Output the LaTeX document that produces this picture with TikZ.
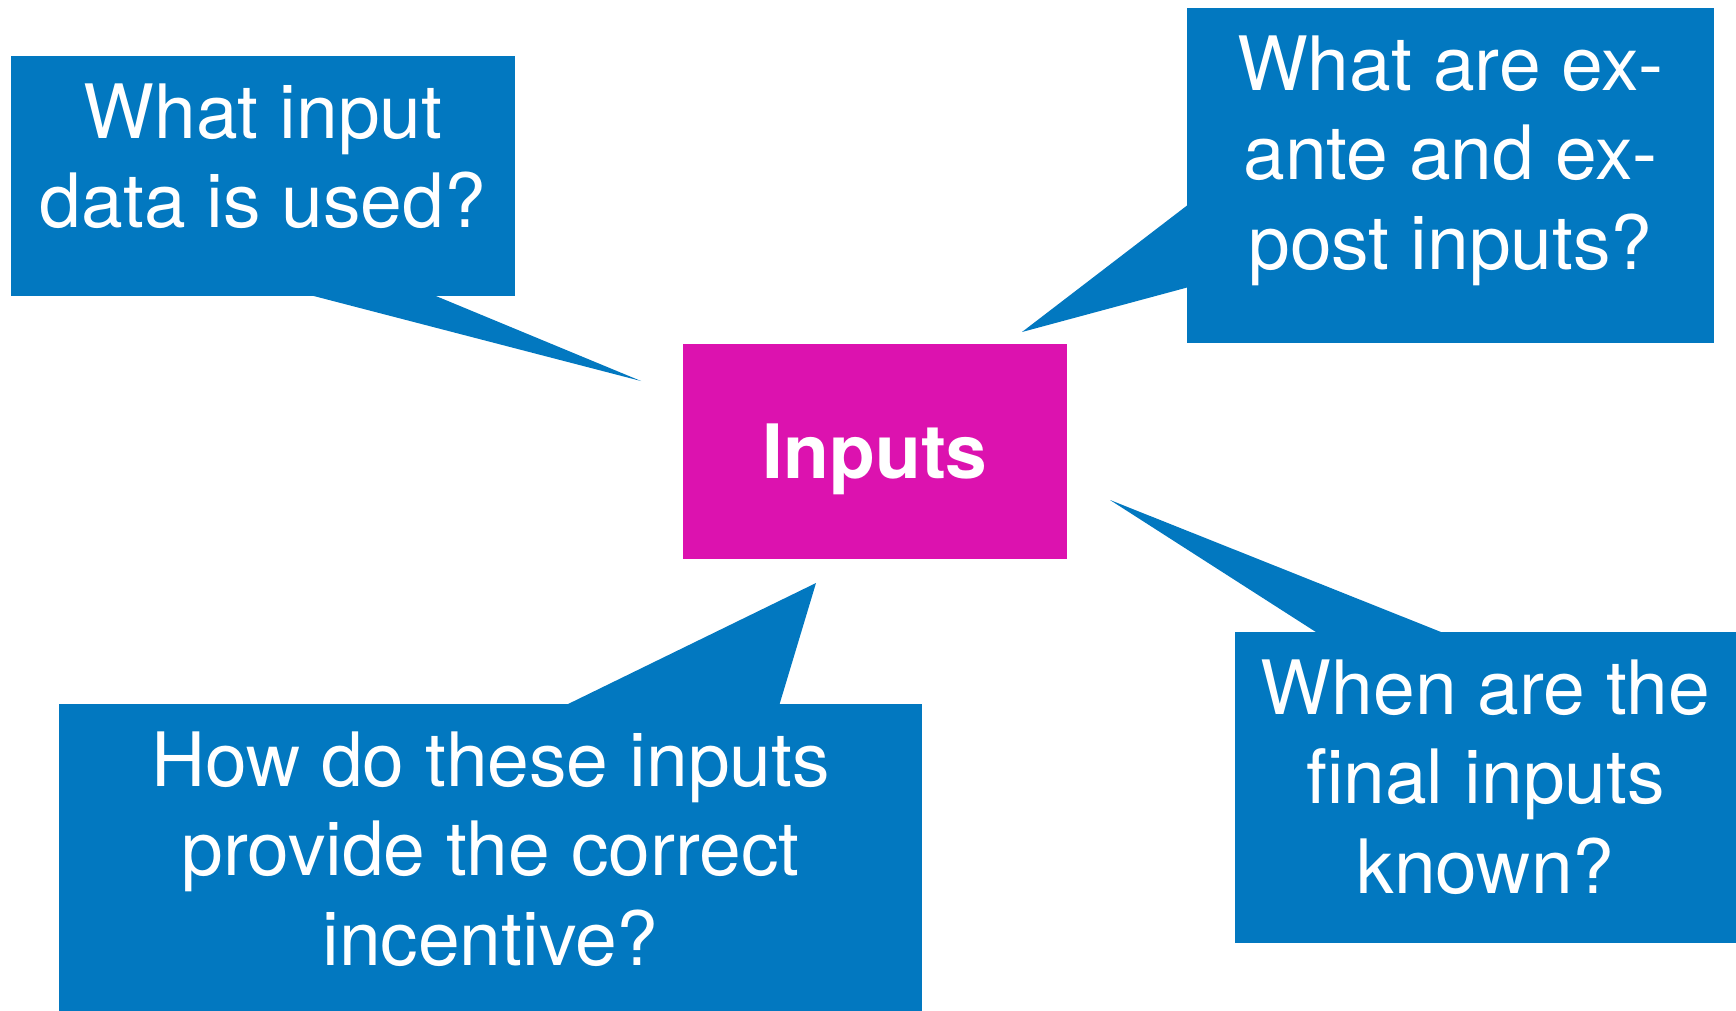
\documentclass[tikz,border=0pt]{standalone}
\usepackage{fontspec}
\setmainfont{TeX Gyre Heros}
\usetikzlibrary{positioning}
\definecolor{calloutblue}{RGB}{2,120,192}
\definecolor{inputpink}{RGB}{220,18,175}

\begin{document}
\begin{tikzpicture}[
  x=1pt, y=-1pt,
  every node/.style={inner sep=0pt, outer sep=0pt, text=white},
  qbox/.style={rectangle, fill=calloutblue},
  qtext/.style={align=center, font=\fontsize{75}{89.5}\selectfont},
  pointer/.style={fill=calloutblue},
  hub/.style={
    rectangle, fill=inputpink,
    minimum width=384pt, minimum height=215pt,
    text depth=0pt, font=\fontsize{75}{90}\selectfont\bfseries
  }
]
\useasboundingbox (0,0) rectangle (1736,1011);

\node[hub] (inputs) at (875,451.5) {Inputs};

\node[qbox, minimum width=504pt, minimum height=240pt] (q1) at (263,176) {};
\node[qbox, minimum width=527pt, minimum height=335pt] (q2) at (1450.5,175.5) {};
\node[qbox, minimum width=863pt, minimum height=307pt] (q3) at (490.5,857.5) {};
\node[qbox, minimum width=501pt, minimum height=311pt] (q4) at (1485.5,787.5) {};

% pointer tips
\coordinate (q1tip) at (641,381);
\coordinate (q2tip) at (1022,332);
\coordinate (q3tip) at (816,583);
\coordinate (q4tip) at (1110,500);

\fill[pointer] ([xshift=295pt,yshift=2pt]q1.south west) -- (q1tip)
  -- ([xshift=420pt,yshift=2pt]q1.south west) -- cycle;
\fill[pointer] ([xshift=2pt,yshift=-196pt]q2.north west) -- (q2tip)
  -- ([xshift=2pt,yshift=-279pt]q2.north west) -- cycle;
\fill[pointer] ([xshift=505pt,yshift=-2pt]q3.north west) -- (q3tip)
  -- ([xshift=720pt,yshift=-2pt]q3.north west) -- cycle;
\fill[pointer] ([xshift=84pt,yshift=-2pt]q4.north west) -- (q4tip)
  -- ([xshift=211pt,yshift=-2pt]q4.north west) -- cycle;

\node[qtext, below=27.5pt of q1.north] (q1text) {What input\\data is used?};
\node[qtext, below=27.5pt of q2.north] (q2text) {What are ex-\\ante and ex-\\post inputs?};
\node[qtext, below=27.5pt of q3.north] (q3text) {How do these inputs\\provide the correct\\incentive?};
\node[qtext, below=27.5pt of q4.north] (q4text) {When are the\\final inputs\\known?};
\end{tikzpicture}
\end{document}
